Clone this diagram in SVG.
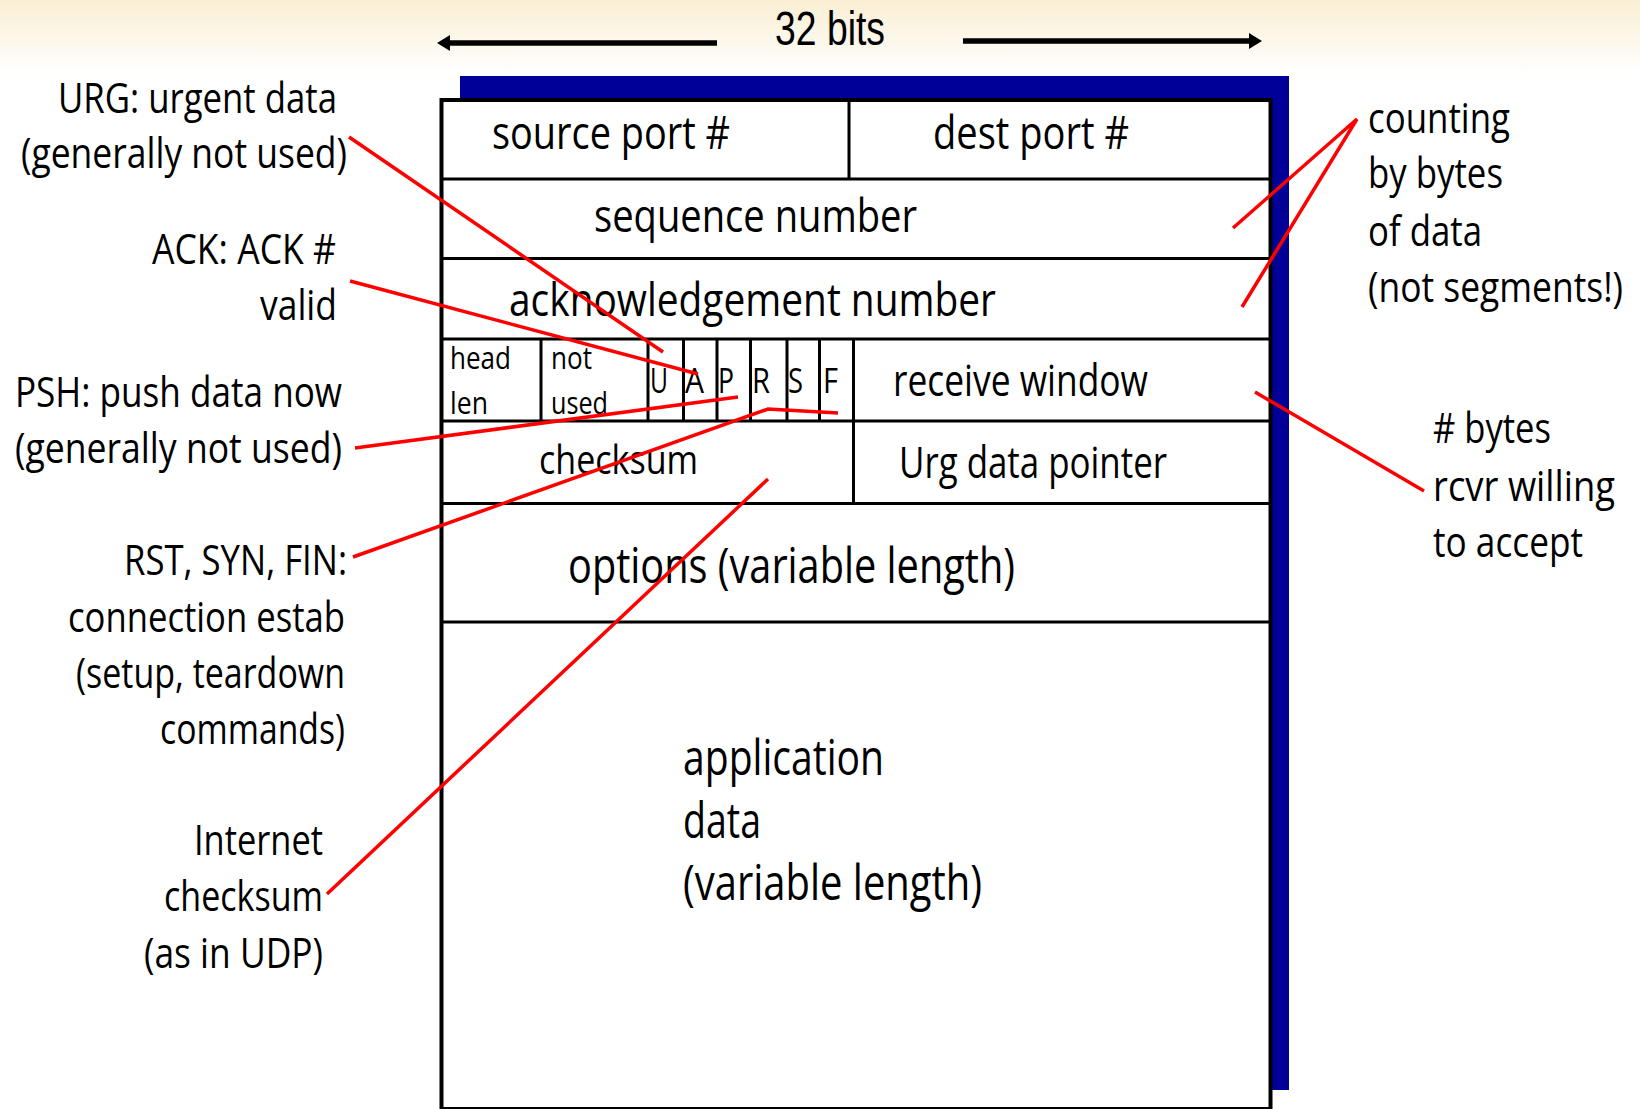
<svg xmlns="http://www.w3.org/2000/svg" width="1640" height="1109" viewBox="0 0 1640 1109">
<defs>
<linearGradient id="bg" x1="0" y1="0" x2="0" y2="1">
<stop offset="0" stop-color="#faefd4"/>
<stop offset="1" stop-color="#ffffff"/>
</linearGradient>
<style>
text{font-family:"Open Sans","Liberation Sans",sans-serif;fill:#000}
.lbl{font-size:42px}
.fld{font-size:46px}
.big{font-size:50px}
.sm{font-size:44px}
.flag{font-size:35px}
.tiny{font-size:31px}
.grid{stroke:#000;stroke-width:3;fill:none}
.red{stroke:#ff0000;stroke-width:3.5;fill:none}
.arr{stroke:#000;stroke-width:5.5}
</style>
</defs>
<rect x="0" y="0" width="1640" height="1109" fill="#ffffff"/>
<rect x="0" y="0" width="1640" height="75" fill="url(#bg)"/>

<g id="width-arrow">
<line class="arr" x1="717" y1="43" x2="448" y2="43"/>
<polygon points="437,43 450,35 450,51" fill="#000"/>
<line class="arr" x1="963" y1="41" x2="1251" y2="41"/>
<polygon points="1262,41 1249,33 1249,49" fill="#000"/>
<text x="775" y="45" style="font-family:'Liberation Sans',sans-serif;font-size:48px" textLength="110" lengthAdjust="spacingAndGlyphs">32 bits</text>
</g>

<g id="segment">
<rect x="460" y="76" width="829" height="1014" fill="#000099"/>
<rect x="441.5" y="100" width="829" height="1009" fill="#ffffff" stroke="#000" stroke-width="4"/>
<g id="grid-lines">
<line class="grid" x1="441" y1="179" x2="1271" y2="179"/>
<line class="grid" x1="441" y1="258.5" x2="1271" y2="258.5"/>
<line class="grid" x1="441" y1="339" x2="1271" y2="339"/>
<line class="grid" x1="441" y1="421" x2="1271" y2="421"/>
<line class="grid" x1="441" y1="503.5" x2="1271" y2="503.5"/>
<line class="grid" x1="441" y1="622" x2="1271" y2="622"/>
<line class="grid" x1="849" y1="100" x2="849" y2="179"/>
<line class="grid" x1="541" y1="339" x2="541" y2="421"/>
<line class="grid" x1="648" y1="339" x2="648" y2="421"/>
<line class="grid" x1="683.5" y1="339" x2="683.5" y2="421"/>
<line class="grid" x1="717" y1="339" x2="717" y2="421"/>
<line class="grid" x1="750.5" y1="339" x2="750.5" y2="421"/>
<line class="grid" x1="787" y1="339" x2="787" y2="421"/>
<line class="grid" x1="819.5" y1="339" x2="819.5" y2="421"/>
<line class="grid" x1="853.5" y1="339" x2="853.5" y2="503.5"/>
</g>
</g>

<g id="source-port"><text class="fld" x="492" y="149" textLength="238" lengthAdjust="spacingAndGlyphs">source port #</text></g>
<g id="dest-port"><text class="fld" x="933" y="149" textLength="196" lengthAdjust="spacingAndGlyphs">dest port #</text></g>
<g id="sequence-number"><text class="fld" x="594" y="232" textLength="323" lengthAdjust="spacingAndGlyphs">sequence number</text></g>
<g id="ack-number"><text class="fld" x="509" y="316" textLength="487" lengthAdjust="spacingAndGlyphs">acknowledgement number</text></g>
<g id="head-len">
<text class="tiny" x="450" y="369" textLength="61" lengthAdjust="spacingAndGlyphs">head</text>
<text class="tiny" x="450" y="414" textLength="38" lengthAdjust="spacingAndGlyphs">len</text>
</g>
<g id="not-used">
<text class="tiny" x="551" y="369" textLength="41" lengthAdjust="spacingAndGlyphs">not</text>
<text class="tiny" x="551" y="414" textLength="57" lengthAdjust="spacingAndGlyphs">used</text>
</g>
<g id="flags">
<text class="flag" x="650" y="393" textLength="18" lengthAdjust="spacingAndGlyphs">U</text>
<text class="flag" x="685" y="393" textLength="19" lengthAdjust="spacingAndGlyphs">A</text>
<text class="flag" x="718" y="393" textLength="16" lengthAdjust="spacingAndGlyphs">P</text>
<text class="flag" x="752" y="393" textLength="18" lengthAdjust="spacingAndGlyphs">R</text>
<text class="flag" x="788" y="393" textLength="15" lengthAdjust="spacingAndGlyphs">S</text>
<text class="flag" x="823" y="393" textLength="15" lengthAdjust="spacingAndGlyphs">F</text>
</g>
<g id="receive-window"><text class="sm" x="893" y="396" textLength="255" lengthAdjust="spacingAndGlyphs">receive window</text></g>
<g id="checksum"><text style="font-size:40px" x="539" y="474" textLength="159" lengthAdjust="spacingAndGlyphs">checksum</text></g>
<g id="urg-pointer"><text class="sm" x="899" y="478" textLength="268" lengthAdjust="spacingAndGlyphs">Urg data pointer</text></g>
<g id="options"><text class="big" x="568" y="583" textLength="447" lengthAdjust="spacingAndGlyphs">options (variable length)</text></g>
<g id="app-data">
<text class="big" x="683" y="775" textLength="201" lengthAdjust="spacingAndGlyphs">application</text>
<text class="big" x="683" y="838" textLength="78" lengthAdjust="spacingAndGlyphs">data</text>
<text class="big" x="683" y="900" textLength="299" lengthAdjust="spacingAndGlyphs">(variable length)</text>
</g>

<g id="label-urg">
<text class="lbl" x="58" y="113" textLength="279" lengthAdjust="spacingAndGlyphs">URG: urgent data</text>
<text class="lbl" x="21" y="168" textLength="326" lengthAdjust="spacingAndGlyphs">(generally not used)</text>
</g>
<g id="label-ack">
<text class="lbl" x="152" y="264" textLength="184" lengthAdjust="spacingAndGlyphs">ACK: ACK #</text>
<text class="lbl" x="260" y="320" textLength="77" lengthAdjust="spacingAndGlyphs">valid</text>
</g>
<g id="label-psh">
<text class="lbl" x="15" y="407" textLength="327" lengthAdjust="spacingAndGlyphs">PSH: push data now</text>
<text class="lbl" x="15" y="463" textLength="327" lengthAdjust="spacingAndGlyphs">(generally not used)</text>
</g>
<g id="label-rst">
<text class="lbl" x="124" y="575" textLength="223" lengthAdjust="spacingAndGlyphs">RST, SYN, FIN:</text>
<text class="lbl" x="68" y="632" textLength="277" lengthAdjust="spacingAndGlyphs">connection estab</text>
<text class="lbl" x="76" y="688" textLength="269" lengthAdjust="spacingAndGlyphs">(setup, teardown</text>
<text class="lbl" x="160" y="744" textLength="185" lengthAdjust="spacingAndGlyphs">commands)</text>
</g>
<g id="label-checksum">
<text class="lbl" x="194" y="855" textLength="129" lengthAdjust="spacingAndGlyphs">Internet</text>
<text class="lbl" x="164" y="911" textLength="159" lengthAdjust="spacingAndGlyphs">checksum</text>
<text class="lbl" x="144" y="968" textLength="179" lengthAdjust="spacingAndGlyphs">(as in UDP)</text>
</g>
<g id="label-counting">
<text class="lbl" x="1368" y="133" textLength="142" lengthAdjust="spacingAndGlyphs">counting</text>
<text class="lbl" x="1368" y="188" textLength="135" lengthAdjust="spacingAndGlyphs">by bytes</text>
<text class="lbl" x="1368" y="246" textLength="114" lengthAdjust="spacingAndGlyphs">of data</text>
<text class="lbl" transform="translate(1368,302) scale(0.84,1)" x="0" y="0" textLength="303.6" lengthAdjust="spacingAndGlyphs">(not segments!)</text>
</g>
<g id="label-window">
<text class="lbl" x="1433" y="443" textLength="118" lengthAdjust="spacingAndGlyphs"># bytes</text>
<text class="lbl" x="1433" y="501" textLength="182" lengthAdjust="spacingAndGlyphs">rcvr willing</text>
<text class="lbl" x="1433" y="557" textLength="150" lengthAdjust="spacingAndGlyphs">to accept</text>
</g>

<g id="connectors">
<line class="red" x1="349" y1="137" x2="663" y2="352"/>
<line class="red" x1="350" y1="281" x2="698" y2="374"/>
<line class="red" x1="355" y1="448" x2="738" y2="397"/>
<polyline class="red" points="353,557 768,409 838,413"/>
<line class="red" x1="327" y1="894" x2="768" y2="479"/>
<polyline class="red" points="1233,228 1357,119 1242,307"/>
<line class="red" x1="1255" y1="392" x2="1424" y2="491"/>
</g>
</svg>
